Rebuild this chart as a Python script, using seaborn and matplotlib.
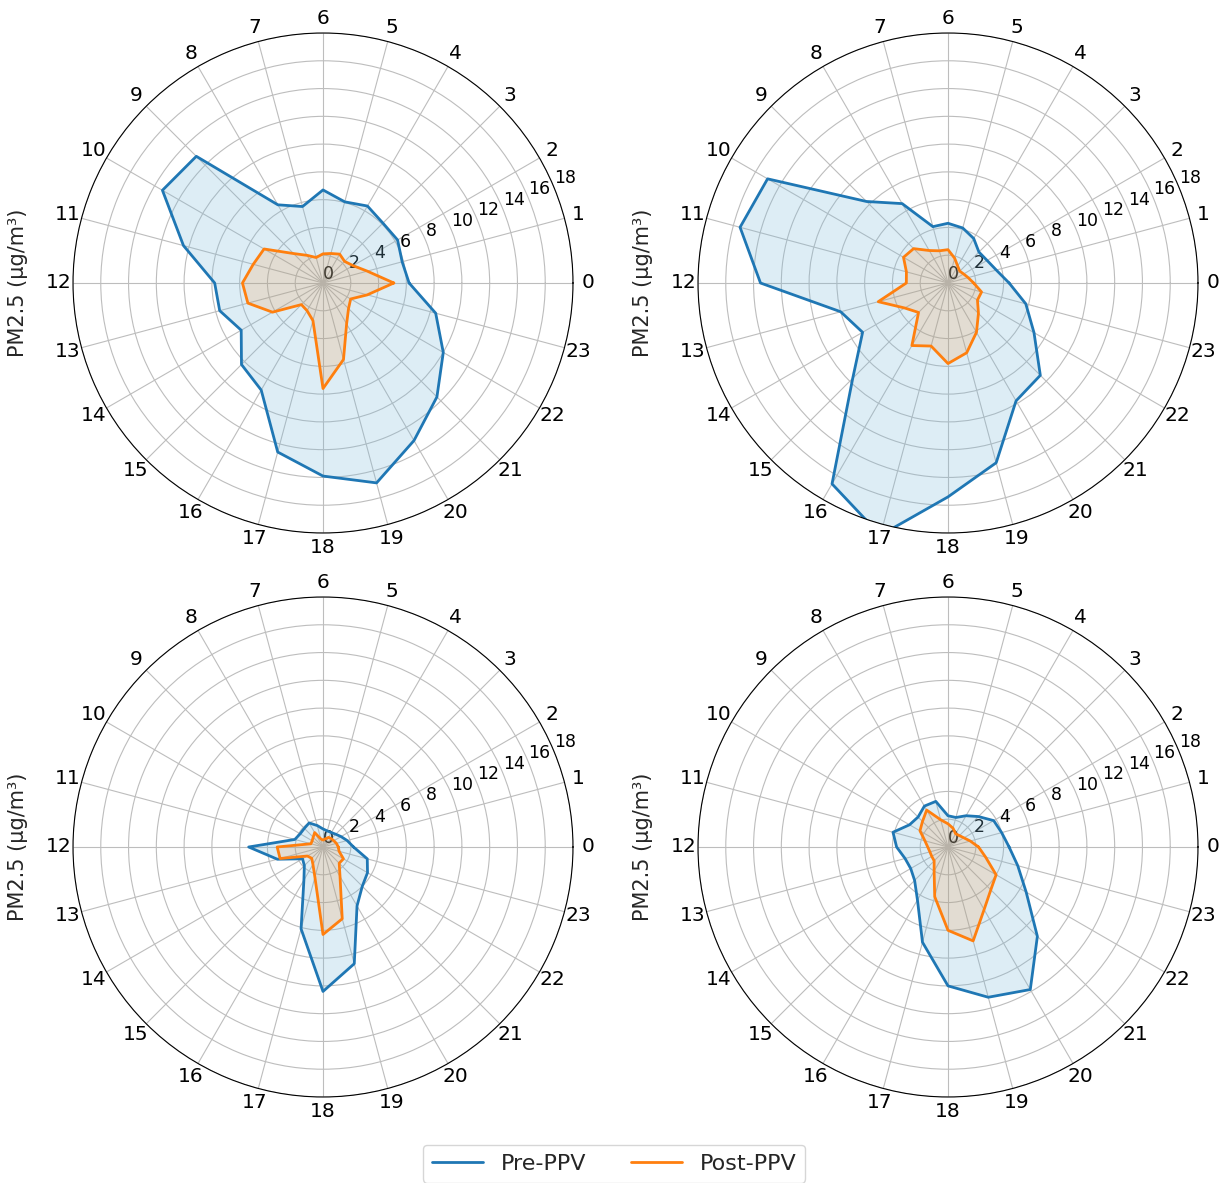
import numpy as np
import pandas as pd
import matplotlib
matplotlib.use("Agg")
import matplotlib.pyplot as plt
from matplotlib.lines import Line2D
import seaborn as sns

# ---------------- data ----------------
hours = list(range(24))
hour_labels = [str(h) for h in hours]
r_ticks = list(range(0, 20, 2))
series_names = ["Pre-PPV", "Post-PPV"]
y_label = "PM2.5 (μg/m³)"

pre_a = [6.2, 5.9, 6.2, 6.1, 6.4, 6.05, 6.7, 5.7, 6.5, 12.9, 13.35, 10.4,
         7.8, 7.7, 6.8, 8.3, 8.9, 12.6, 13.9, 14.9, 13.1, 11.6, 10.0, 8.4]
post_a = [5.1, 3.3, 2.5, 2.2, 2.4, 2.2, 2.1, 1.9, 2.3, 3.0, 4.9, 5.2,
          5.8, 5.6, 4.2, 2.2, 2.3, 2.8, 7.6, 5.7, 3.4, 2.6, 2.3, 3.3]

pre_b = [4.4, 3.6, 3.25, 3.15, 3.7, 4.1, 4.3, 4.2, 6.6, 8.3, 15.0, 15.5,
         13.5, 8.0, 7.1, 9.7, 16.7, 18.8, 15.4, 13.4, 9.8, 9.4, 7.15, 5.8]
post_b = [1.85, 1.5, 1.3, 1.2, 1.4, 1.85, 2.4, 2.4, 2.7, 3.5, 3.7, 3.1,
          3.0, 5.2, 3.6, 3.0, 5.2, 4.7, 5.8, 5.2, 4.1, 3.1, 2.45, 2.5]

pre_c = [2.2, 1.8, 1.5, 1.3, 1.2, 1.2, 1.3, 1.6, 2.0, 1.9, 1.9, 2.1,
         5.35, 3.4, 1.7, 1.9, 2.75, 6.1, 10.4, 8.7, 4.9, 4.0, 3.7, 3.3]
post_c = [1.1, 1.0, 0.9, 0.85, 0.8, 0.6, 0.5, 0.6, 1.2, 1.0, 0.9, 0.9,
          3.3, 3.2, 1.3, 1.15, 1.45, 2.25, 6.3, 5.35, 2.45, 1.65, 1.7, 1.2]

pre_d = [4.4, 4.0, 3.8, 3.1, 2.6, 2.2, 2.25, 3.4, 3.4, 3.05, 3.2, 4.1,
         3.7, 3.2, 3.1, 3.4, 4.4, 7.1, 10.0, 11.2, 11.85, 9.1, 6.5, 5.2]
post_d = [2.2, 1.66, 1.32, 1.16, 1.1, 1.4, 1.67, 2.03, 3.07, 2.6, 2.33, 1.72,
          1.46, 1.35, 1.35, 1.41, 2.0, 3.7, 6.0, 7.0, 5.2, 4.36, 4.0, 2.8]

panels = [(pre_a, post_a), (pre_b, post_b), (pre_c, post_c), (pre_d, post_d)]

# ---------------- style ----------------
sns.set_style("white")
plt.rcParams["font.family"] = ["DejaVu Sans"]
line_colors = ["#1f77b4", "#ff7f0e"]
fill_colors = ["#7bbbdb", "#ff7f0e"]
fill_alphas = [0.25, 0.15]

W, H = 1221, 1183
fig = plt.figure(figsize=(W / 100, H / 100), dpi=100)

R = 250
centers = [(323, 283), (948, 283), (323, 847), (948, 847)]

theta = np.deg2rad(np.array(hours) * 15.0)
theta_closed = np.append(theta, theta[0] + 2 * np.pi)

for (cx, cy), (pre, post) in zip(centers, panels):
    ax = fig.add_axes([(cx - R) / W, (H - cy - R) / H, 2 * R / W, 2 * R / H],
                      projection="polar")
    for vals, lc, fc, fa, name in zip((pre, post), line_colors, fill_colors,
                                       fill_alphas, series_names):
        v = np.append(np.array(vals, dtype=float), vals[0])
        df = pd.DataFrame({"theta": theta_closed, "value": v})
        ax.fill(theta_closed, v, color=fc, alpha=fa, linewidth=0)
        sns.lineplot(data=df, x="theta", y="value", ax=ax, sort=False,
                     estimator=None, color=lc, linewidth=2, legend=False)
    ax.set_ylim(0, 18)
    ax.set_xticks(theta)
    ax.set_xticklabels(hour_labels, fontsize=14.5)
    ax.set_yticks(r_ticks)
    ax.set_yticklabels([str(t) for t in r_ticks], fontsize=12.5)
    ax.set_rlabel_position(22.5)
    ax.grid(True, color="#bdbdbd", linewidth=0.8)
    ax.spines["polar"].set_color("black")
    ax.spines["polar"].set_linewidth(0.8)
    ax.set_xlabel("")
    ax.set_ylabel(y_label, fontsize=15)
    ax.yaxis.set_label_coords(-0.09, 0.5)
    ax.tick_params(axis="x", pad=0, colors="black")
    ax.tick_params(axis="y", colors="black")

handles = [Line2D([0], [0], color=c, linewidth=2) for c in line_colors]
fig.legend(handles, series_names, loc="upper center",
           bbox_to_anchor=(0.503, 0.0321), ncol=2, fontsize=16,
           handlelength=2.3, borderaxespad=0, frameon=True)

fig.savefig("out.png", dpi=100)
